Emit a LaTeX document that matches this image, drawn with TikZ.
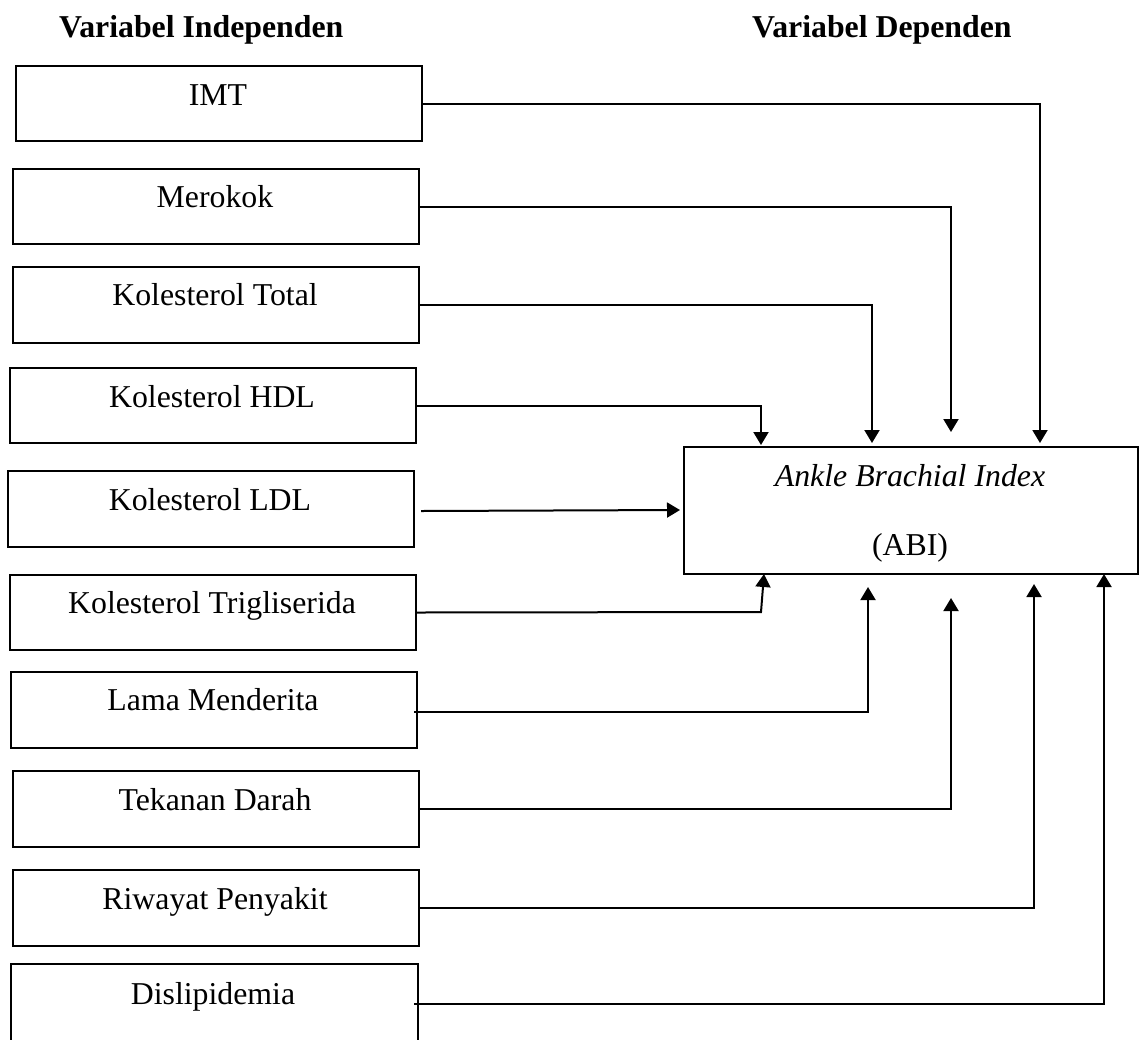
\documentclass[tikz,border=0pt]{standalone}
\usepackage{fontspec}
\setmainfont{Liberation Serif}
\usetikzlibrary{arrows.meta}
\begin{document}
\begin{tikzpicture}[x=1pt,y=-1pt,
  conn/.style={line width=2pt},
  arr/.style={conn,-{Triangle[width=15pt,length=13pt]}},
  lbl/.style={font=\fontsize{31.8pt}{38pt}\selectfont, anchor=base, inner sep=0pt},
  hdr/.style={font=\fontsize{31.8pt}{38pt}\selectfont\bfseries, anchor=base west, inner sep=0pt},
  vbox/.style={draw, line width=2pt, rectangle, inner sep=0pt, anchor=north west, minimum width=406pt}
]
\useasboundingbox (0,0) rectangle (1139,1039);

% headers
\node[hdr] (h1) at (59,37) {Variabel Independen};
\node[hdr] (h2) at (752,37) {Variabel Dependen};

% independent boxes
\node[vbox, minimum height=75pt] (bIMT) at (15,65) {};
\node[lbl] (tIMT) at (218,105) {IMT};
\node[vbox, minimum height=75pt] (bMer) at (12,168) {};
\node[lbl] (tMer) at (215,207) {Merokok};
\node[vbox, minimum height=76pt] (bTot) at (12,266) {};
\node[lbl] (tTot) at (215,305) {Kolesterol Total};
\node[vbox, minimum height=75pt] (bHDL) at (9,367) {};
\node[lbl] (tHDL) at (212,407) {Kolesterol HDL};
\node[vbox, minimum height=76pt] (bLDL) at (7,470) {};
\node[lbl] (tLDL) at (210,510) {Kolesterol LDL};
\node[vbox, minimum height=75pt] (bTri) at (9,574) {};
\node[lbl] (tTri) at (212,613) {Kolesterol Trigliserida};
\node[vbox, minimum height=76pt] (bLam) at (10,671) {};
\node[lbl] (tLam) at (213,710) {Lama Menderita};
\node[vbox, minimum height=76pt] (bTek) at (12,770) {};
\node[lbl] (tTek) at (215,810) {Tekanan Darah};
\node[vbox, minimum height=76pt] (bRiw) at (12,869) {};
\node[lbl] (tRiw) at (215,909) {Riwayat Penyakit};
\node[vbox, draw=none, minimum width=405pt, minimum height=78pt] (bDis) at (11,964) {};
\draw[conn] (bDis.south west) -- (bDis.north west) -- (bDis.north east) -- (bDis.south east);
\node[lbl] (tDis) at (213,1004) {Dislipidemia};

% dependent box
\node[vbox, minimum width=454pt, minimum height=127pt] (abi) at (683,446) {};
\node[lbl] (tAbi1) at (910,486) {\itshape Ankle Brachial Index};
\node[lbl] (tAbi2) at (910,555) {(ABI)};

% arrow end points
\coordinate (eIMT) at (1040,443);
\coordinate (eMer) at (951,432);
\coordinate (eTot) at (872,443);
\coordinate (eHDL) at (761,445);
\coordinate (eLDL) at (680,510);
\coordinate (kTri) at (761,612);
\coordinate (eTri) at (764,574);
\coordinate (eLam) at (868,587);
\coordinate (eTek) at (951,598);
\coordinate (eRiw) at (1034,584);
\coordinate (eDis) at (1104,574);

% connectors
\draw[arr] (bIMT.east) -| (eIMT);
\draw[arr] (bMer.east) -| (eMer);
\draw[arr] (bTot.east) -| (eTot);
\draw[arr] (bHDL.east) -| (eHDL);
\draw[arr] ([xshift=6pt,yshift=-2pt]bLDL.east) -- (eLDL);
\draw[arr] (bTri.east) -- (kTri) -- (eTri);
\draw[arr] ([xshift=-4pt,yshift=-2pt]bLam.east) -| (eLam);
\draw[arr] (bTek.east) -| (eTek);
\draw[arr] (bRiw.east) -| (eRiw);
\draw[arr] ([xshift=-4pt]bDis.east) -| (eDis);
\end{tikzpicture}
\end{document}
